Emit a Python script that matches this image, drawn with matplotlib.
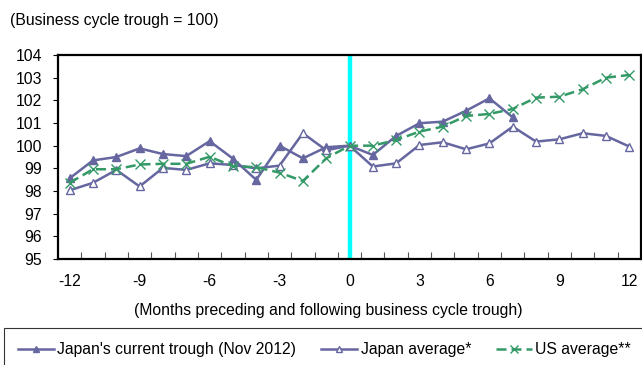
import numpy as np
import matplotlib
matplotlib.use("Agg")
import matplotlib.pyplot as plt
from matplotlib.ticker import FixedLocator

plt.rcParams['font.family'] = ['Liberation Sans', 'DejaVu Sans']
plt.rcParams['axes.unicode_minus'] = False

# months relative to the trough
months = list(range(-12, 13))
current_months = list(range(-12, 8))

# Japan's current trough (Nov 2012)
japan_current = [98.56, 99.35, 99.50, 99.88, 99.63, 99.54, 100.20, 99.43, 98.49, 100.00,
                 99.44, 99.93, 100.00, 99.59, 100.43, 100.99, 101.06, 101.54, 102.09, 101.25]
# Japan average*
japan_avg = [98.03, 98.36, 98.93, 98.20, 99.02, 98.93, 99.22, 99.15, 99.00, 99.12,
             100.55, 99.80, 100.00, 99.08, 99.22, 100.03, 100.15, 99.84, 100.10, 100.84,
             100.18, 100.28, 100.55, 100.43, 99.96]
# US average**
us_avg = [98.36, 98.96, 98.96, 99.17, 99.20, 99.20, 99.51, 99.10, 99.05, 98.81,
          98.44, 99.44, 100.00, 100.00, 100.25, 100.62, 100.84, 101.31, 101.40, 101.62,
          102.12, 102.16, 102.49, 103.00, 103.12]

xticks = [-12, -9, -6, -3, 0, 3, 6, 9, 12]
yticks = [95, 96, 97, 98, 99, 100, 101, 102, 103, 104]

purple = '#6666a0'
green = '#339966'
fs = 11.3

fig = plt.figure(figsize=(6.42, 3.65), dpi=100)
ax = fig.add_axes([58/642, 1-259/365, 583/642, 204/365])

ax.axvline(0, color='#00ffff', lw=3.2, zorder=1.5)

l1, = ax.plot(current_months, japan_current, color=purple, lw=1.8, marker='^',
              ms=6, mfc=purple, mec=purple, zorder=3)
l2, = ax.plot(months, japan_avg, color=purple, lw=1.8, marker='^',
              ms=6, mfc='white', mec=purple, zorder=3)
l3, = ax.plot(months, us_avg, color=green, lw=1.8, ls=(0, (4, 2)), marker='x',
              ms=6.5, mew=1.0, mec=green, zorder=4)

ax.set_xlim(-12.5, 12.5)
ax.set_ylim(95, 104)
ax.set_yticks(yticks)
ax.set_xticks(xticks)
ax.xaxis.set_minor_locator(FixedLocator(np.arange(-11.5, 12.0, 1)))
ax.tick_params(axis='x', which='major', length=0, pad=11, labelsize=fs)
ax.tick_params(axis='x', which='minor', direction='in', length=5, width=0.8, color='#555555')
ax.tick_params(axis='y', direction='out', length=3.5, width=0.8, pad=8, labelsize=fs)

for sp in ax.spines.values():
    sp.set_linewidth(1.6)
    sp.set_color('black')

fig.text(10/642, 1-20/365, '(Business cycle trough = 100)', fontsize=fs,
         ha='left', va='center')
fig.text(328/642, 1-310/365, '(Months preceding and following business cycle trough)',
         fontsize=fs, ha='center', va='center')

leg = fig.legend([l1, l2, l3],
                 ["Japan's current trough (Nov 2012)", 'Japan average*', 'US average**'],
                 loc='upper left', bbox_to_anchor=(4/642, 1-328/365), ncol=3,
                 fontsize=fs, frameon=True, fancybox=False, edgecolor='black',
                 handlelength=2.3, handletextpad=0.2, columnspacing=1.6,
                 borderpad=0.9, borderaxespad=0, markerscale=0.8)
leg.get_frame().set_linewidth(0.8)

fig.savefig('out.png', dpi=100)
